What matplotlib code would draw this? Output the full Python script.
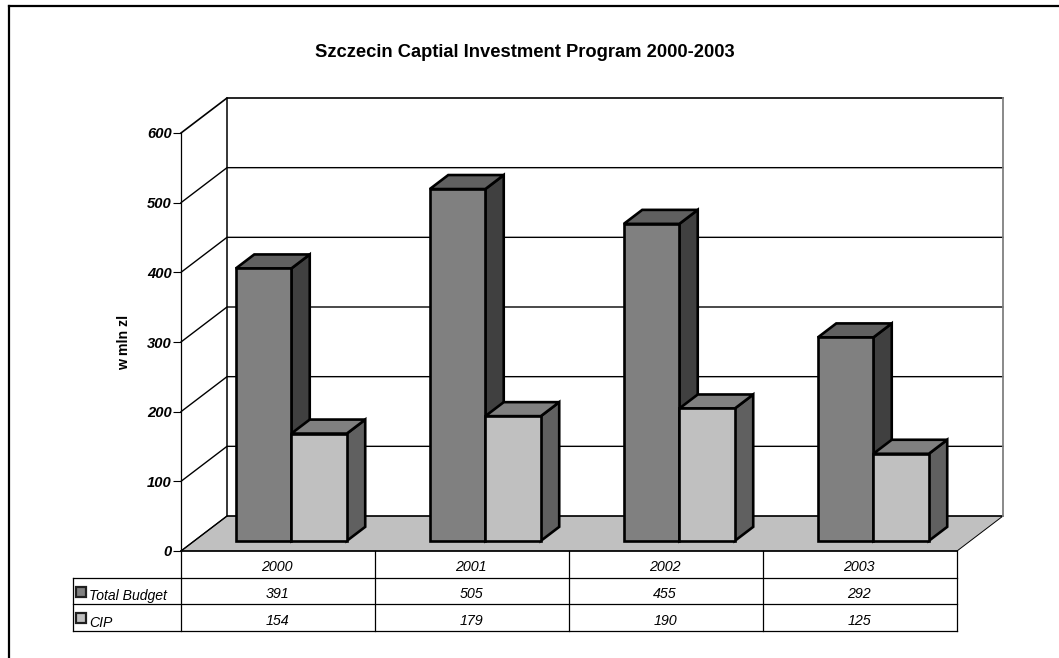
import matplotlib
matplotlib.use("Agg")
import matplotlib.pyplot as plt
from matplotlib.lines import Line2D

plt.rcParams['font.family'] = ['Liberation Sans', 'DejaVu Sans']

years = ['2000', '2001', '2002', '2003']
total_budget = [391, 505, 455, 292]
cip = [154, 179, 190, 125]
series_names = ['Total Budget', 'CIP']
y_ticks = [0, 100, 200, 300, 400, 500, 600]

W, H = 1059, 658
fig = plt.figure(figsize=(W / 100, H / 100), dpi=100)
# axes = front plane of the 3d box, in pixels 181..957 / 133..551
ax = fig.add_axes([181 / W, 1 - 551 / H, 776 / W, 418 / H])
ax.set_xlim(0, 4)
ax.set_ylim(0, 600)
ax.patch.set_visible(False)
for s in ['top', 'right', 'bottom']:
    ax.spines[s].set_visible(False)
ax.spines['left'].set_linewidth(0.9)
ax.set_xticks([])
ax.set_yticks(y_ticks)
ax.set_yticklabels([str(v) for v in y_ticks], fontsize=10.6, fontweight='bold', fontstyle='italic')
ax.tick_params(axis='y', length=5.5, width=0.8, pad=1.2)
ax.set_ylabel('w mln zl', fontsize=10.2, fontweight='bold')
ax.yaxis.set_label_coords((131 - 181) / 776, 0.5)

DX = 46 / 194   # depth of the box, in category units
DY = 35 / (418 / 600)  # same, in value units


def p(x, y, d):
    return (x + d * DX, y + d * DY)


def poly(pts, color, edge='black', lw=1.9, z=2):
    xs, ys = zip(*pts)
    ax.fill(xs, ys, facecolor=color, edgecolor=edge, linewidth=lw, zorder=z,
            clip_on=False, joinstyle='miter')


def line(pts, color='black', lw=0.9, z=1):
    xs, ys = zip(*pts)
    ax.plot(xs, ys, color=color, lw=lw, zorder=z, clip_on=False, solid_capstyle='projecting')


# floor and walls
poly([p(0, 0, 0), p(4, 0, 0), p(4, 0, 1), p(0, 0, 1)], '#c0c0c0', edge='black', lw=0.7, z=1)
for v in y_ticks:
    line([p(0, v, 0), p(0, v, 1), p(4, v, 1)], lw=1.0 if v != 600 else 1.2)
line([p(0, 0, 1), p(0, 600, 1)], lw=1.1)
line([p(4, 0, 1), p(4, 600, 1)], color='#808080', lw=1.3)


def bar3d(x0, x1, v, front, top, side, z):
    d0, d1 = 0.29, 0.69
    poly([p(x1, 0, d0), p(x1, 0, d1), p(x1, v, d1), p(x1, v, d0)], side, z=z)
    poly([p(x0, v, d0), p(x1, v, d0), p(x1, v, d1), p(x0, v, d1)], top, z=z)
    poly([p(x0, 0, d0), p(x1, 0, d0), p(x1, v, d0), p(x0, v, d0)], front, z=z)


BAR = 0.286
for i in range(len(years)):
    c = i + 0.5
    bar3d(c - BAR, c, total_budget[i], '#808080', '#606060', '#404040', 3 + 2 * i)
    bar3d(c, c + BAR, cip[i], '#c0c0c0', '#808080', '#606060', 4 + 2 * i)

# data table under the plot
ROW = 26.7 / (418 / 600)
LEFT = (73 - 181) / 194
line([(0, 0), (4, 0)], lw=1.1, z=2)
line([(0, -ROW), (4, -ROW)])
line([(LEFT, -ROW), (0, -ROW)])
line([(LEFT, -2 * ROW), (4, -2 * ROW)])
line([(LEFT, -3 * ROW), (4, -3 * ROW)])
line([(LEFT, -ROW), (LEFT, -3 * ROW)])
for i in range(len(years) + 1):
    line([(i, 0), (i, -3 * ROW)])

# text sits a bit below the row centre in the source
NUDGE = 4
cell = dict(ha='center', va='center', fontsize=10.3, fontstyle='italic', clip_on=False)
for i, yr in enumerate(years):
    ax.text(i + 0.495, -0.5 * ROW - NUDGE, yr, **cell)
    ax.text(i + 0.495, -1.5 * ROW - NUDGE, str(total_budget[i]), **cell)
    ax.text(i + 0.495, -2.5 * ROW - NUDGE, str(cip[i]), **cell)

swatch_colors = ['#808080', '#c0c0c0']
for k, name in enumerate(series_names):
    y = -(1.5 + k) * ROW
    ax.text(LEFT + 0.085, y - 7, name, ha='left', va='center', fontsize=10.1, fontstyle='italic')
    ax.plot([LEFT + 0.04], [y - 1], marker='s', ms=6.8, mfc=swatch_colors[k], mec='#202020',
            mew=1.6, clip_on=False, ls='none')

fig.text(525 / W, 1 - 57 / H, 'Szczecin Captial Investment Program 2000-2003',
         ha='center', va='baseline', fontsize=13.2, fontweight='bold')

# outer frame, only top and left are visible in the source
fig.add_artist(Line2D([9 / W, 1], [1 - 6 / H, 1 - 6 / H], color='black', lw=1.6))
fig.add_artist(Line2D([9 / W, 9 / W], [0, 1 - 6 / H], color='black', lw=1.6))

fig.savefig('out.png', dpi=100)
